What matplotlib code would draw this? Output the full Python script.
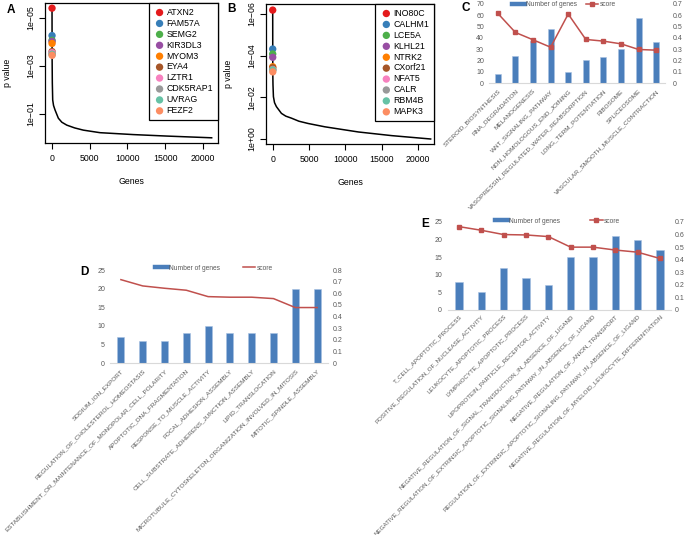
import matplotlib
matplotlib.use("Agg")
import matplotlib.pyplot as plt
from matplotlib.lines import Line2D

plt.rcParams['font.family'] = ['Liberation Sans', 'DejaVu Sans']

# ---- panel A / B data ----
a_genes = ['ATXN2', 'FAM57A', 'SEMG2', 'KIR3DL3', 'MYOM3', 'EYA4', 'LZTR1', 'CDK5RAP1', 'UVRAG', 'FEZF2']
a_top_p = [3.9e-6, 5.4e-5, 8.5e-5, 9.5e-5, 1.15e-4, 2.5e-4, 2.8e-4, 3.2e-4, 3.3e-4, 3.6e-4]
a_curve_rank = [1, 10, 40, 90, 200, 400, 840, 1300, 1950, 3000, 4150, 6360, 10770, 15190, 21150]
a_curve_p = [3.9e-6, 3.6e-4, 5.0e-3, 0.026, 0.044, 0.068, 0.15, 0.22, 0.29, 0.38, 0.47,
             0.60, 0.72, 0.83, 0.98]

b_genes = ['INO80C', 'CALHM1', 'LCE5A', 'KLHL21', 'NTRK2', 'CXorf21', 'NFAT5', 'CALR', 'RBM4B', 'MAPK3']
b_top_p = [6.5e-7, 4.8e-5, 8.3e-5, 1.2e-4, 3.4e-4, 3.8e-4, 4.6e-4, 4.8e-4, 4.9e-4, 6.0e-4]
b_curve_rank = [1, 10, 40, 100, 250, 510, 1200, 1800, 2580, 3600, 4870, 7170, 11770, 16370, 21700]
b_curve_p = [6.5e-7, 6.0e-4, 2.5e-3, 9.3e-3, 0.018, 0.028, 0.059, 0.08, 0.10, 0.14, 0.18,
             0.26, 0.46, 0.69, 1.0]

top_colors = ['#E41A1C', '#377EB8', '#4DAF4A', '#984EA3', '#FF7F00',
              '#A65628', '#F781BF', '#999999', '#66C2A5', '#FC8D62']

# ---- panel C / D / E data ----
c_terms = ['STEROID_BIOSYNTHESIS', 'RNA_DEGRADATION', 'MELANOGENESIS', 'WNT_SIGNALING_PATHWAY',
           'NON_HOMOLOGOUS_END_JOINING', 'VASOPRESSIN_REGULATED_WATER_REABSORPTION',
           'LONG_TERM_POTENTIATION', 'RIBOSOME', 'SPLICEOSOME', 'VASCULAR_SMOOTH_MUSCLE_CONTRACTION']
c_genes = [8, 24, 37, 48, 10, 20, 23, 30, 58, 36]
c_score = [0.617, 0.448, 0.383, 0.317, 0.611, 0.386, 0.371, 0.347, 0.297, 0.291]

d_terms = ['SODIUM_ION_EXPORT', 'REGULATION_OF_CHOLESTEROL_HOMEOSTASIS',
           'ESTABLISHMENT_OR_MAINTENANCE_OF_MONOPOLAR_CELL_POLARITY', 'APOPTOTIC_DNA_FRAGMENTATION',
           'RESPONSE_TO_MUSCLE_ACTIVITY', 'FOCAL_ADHESION_ASSEMBLY',
           'CELL_SUBSTRATE_ADHERENS_JUNCTION_ASSEMBLY', 'LIPID_TRANSLOCATION',
           'MICROTUBULE_CYTOSKELETON_ORGANIZATION_INVOLVED_IN_MITOSIS', 'MITOTIC_SPINDLE_ASSEMBLY']
d_genes = [7, 6, 6, 8, 10, 8, 8, 8, 20, 20]
d_score = [0.717, 0.663, 0.643, 0.626, 0.571, 0.566, 0.566, 0.554, 0.477, 0.477]

e_terms = ['T_CELL_APOPTOTIC_PROCESS', 'POSITIVE_REGULATION_OF_NUCLEASE_ACTIVITY',
           'LEUKOCYTE_APOPTOTIC_PROCESS', 'LYMPHOCYTE_APOPTOTIC_PROCESS',
           'LIPOPROTEIN_PARTICLE_RECEPTOR_ACTIVITY',
           'NEGATIVE_REGULATION_OF_SIGNAL_TRANSDUCTION_IN_ABSENCE_OF_LIGAND',
           'NEGATIVE_REGULATION_OF_EXTRINSIC_APOPTOTIC_SIGNALING_PATHWAY_IN_ABSENCE_OF_LIGAND',
           'NEGATIVE_REGULATION_OF_ANION_TRANSPORT',
           'REGULATION_OF_EXTRINSIC_APOPTOTIC_SIGNALING_PATHWAY_IN_ABSENCE_OF_LIGAND',
           'NEGATIVE_REGULATION_OF_MYELOID_LEUKOCYTE_DIFFERENTIATION']
e_genes = [8, 5, 12, 9, 7, 15, 15, 21, 20, 17]
e_score = [0.663, 0.634, 0.600, 0.597, 0.584, 0.500, 0.500, 0.477, 0.460, 0.410]

W, H = 685, 535
fig = plt.figure(figsize=(W / 100, H / 100), dpi=100)


def px_axes(l, t, r, b):
    return fig.add_axes([l / W, 1 - b / H, (r - l) / W, (b - t) / H])


def pvalue_panel(box, rank, p, genes, top_p, ylim, xlim, yticks, ylabels):
    ax = px_axes(*box)
    ax.plot(rank, p, color='black', lw=1.1, zorder=2)
    for i, g in enumerate(genes):
        ax.scatter(i + 1, top_p[i], s=28, color=top_colors[i], edgecolors='none',
                   label=g, zorder=3, clip_on=False)
    ax.set_yscale('log')
    ax.set_ylim(*ylim)
    ax.set_xlim(*xlim)
    ax.minorticks_off()
    ax.set_yticks(yticks)
    ax.set_yticklabels(ylabels, rotation=90, va='center', fontsize=6.3)
    ax.set_xticks([0, 5000, 10000, 15000, 20000])
    ax.tick_params(axis='x', labelsize=6.3, length=4, width=0.8, pad=4)
    ax.tick_params(axis='y', length=4, width=0.8, pad=3)
    for s in ax.spines.values():
        s.set_linewidth(0.9)
    ax.set_xlabel('Genes', fontsize=6.3, labelpad=10)
    ax.set_ylabel('p value', fontsize=6.3, labelpad=10)
    leg = ax.legend(loc='upper right', borderaxespad=0, fontsize=6.3, frameon=True,
                    fancybox=False, edgecolor='black', framealpha=1, handletextpad=0.1,
                    labelspacing=0.22, borderpad=0.55, handlelength=1.4, scatterpoints=1)
    leg.get_frame().set_linewidth(0.9)
    return ax


pvalue_panel((45, 3, 218, 143), a_curve_rank, a_curve_p, a_genes, a_top_p,
             (10 ** 0.208, 10 ** -5.625), (-930, 21990),
             [1e-5, 1e-3, 1e-1], ['1e\u221205', '1e\u221203', '1e\u221201'])
pvalue_panel((266, 4, 434, 144), b_curve_rank, b_curve_p, b_genes, b_top_p,
             (10 ** 0.24, 10 ** -6.48), (-920, 22160),
             [1e-6, 1e-4, 1e-2, 1], ['1e\u221206', '1e\u221204', '1e\u221202', '1e+00'])

BLUE = '#4A7EBB'
RED = '#C0504D'
GREY = '#595959'


def excel_panel(box, terms, genes, score, gmax, gstep, smax, markers, legend_xy, colsp, pads,
                lab_size=4.6, lab_pad=4):
    ax = px_axes(*box)
    x = list(range(len(terms)))
    ax.bar(x, genes, width=0.33, color=BLUE, edgecolor='#A7C0E3', linewidth=0.4, zorder=2)
    ax.set_xlim(-0.5, len(terms) - 0.5)
    ax.set_ylim(0, gmax)
    ax.set_yticks(range(0, gmax + 1, gstep))
    for s in ['top', 'left', 'right']:
        ax.spines[s].set_visible(False)
    ax.spines['bottom'].set_color('#D9D9D9')
    ax.spines['bottom'].set_linewidth(0.8)
    ax.set_xticks(x)
    ax.set_xticklabels(terms, rotation=45, ha='right', va='top', rotation_mode='anchor',
                       fontsize=lab_size, color=GREY)
    ax.tick_params(axis='x', length=0, pad=lab_pad)
    ax.tick_params(axis='y', length=0, pad=pads[0], labelsize=5, labelcolor=GREY)

    ax2 = ax.twinx()
    if markers:
        ax2.plot(x, score, color=RED, lw=1.1, marker='s', ms=2.6, zorder=3)
    else:
        ax2.plot(x, score, color=RED, lw=1.1, zorder=3)
    ax2.set_ylim(0, smax)
    ticks = [i / 10 for i in range(int(round(smax * 10)) + 1)]
    ax2.set_yticks(ticks)
    ax2.set_yticklabels(['%g' % t for t in ticks])
    for s in ax2.spines.values():
        s.set_visible(False)
    ax2.tick_params(axis='y', length=0, pad=pads[1], labelsize=5, labelcolor=GREY)

    handles = [Line2D([], [], color=BLUE, lw=3.2),
               Line2D([], [], color=RED, lw=1.1, marker='s' if markers else None, ms=2.6)]
    fig.legend(handles, ['Number of genes', 'score'], loc='center left',
               bbox_to_anchor=(legend_xy[0] / W, 1 - legend_xy[1] / H), ncol=2,
               frameon=False, fontsize=4.8, labelcolor=GREY, handlelength=1.9,
               handletextpad=0.2, columnspacing=colsp, borderpad=0, borderaxespad=0)
    return ax


excel_panel((489, 4, 665, 83), c_terms, c_genes, c_score, 70, 10, 0.7, True,
            (512, 5), 1.3, (3.6, 5.5))
excel_panel((110, 270, 328, 363), d_terms, d_genes, d_score, 25, 5, 0.8, False,
            (155, 268), 3.4, (3.6, 3.6))
excel_panel((448, 222, 671, 310), e_terms, e_genes, e_score, 25, 5, 0.7, True,
            (495, 221), 4.5, (4.3, 3.0), lab_size=4.45, lab_pad=2.5)

for letter, (lx, ly) in {'A': (11, 10), 'B': (231, 9), 'C': (466, 8),
                         'D': (84, 272), 'E': (425, 224)}.items():
    fig.text(lx / W, 1 - ly / H, letter, fontsize=8.5, fontweight='bold',
             ha='center', va='center')

fig.savefig('out.png', dpi=100)
